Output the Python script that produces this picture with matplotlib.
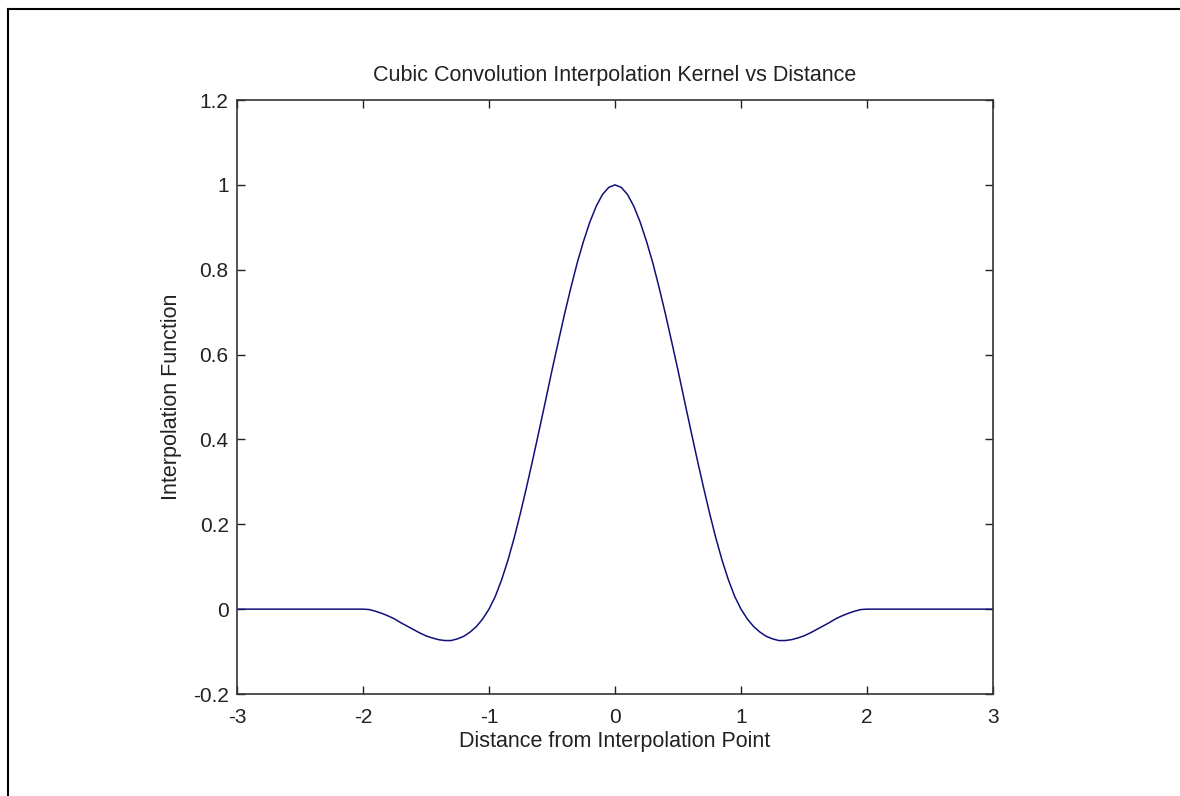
import numpy as np
import matplotlib
matplotlib.use("Agg")
import matplotlib.pyplot as plt
from matplotlib.lines import Line2D

# valores (distância x valor do kernel)
distancia = [-3.0, -2.0, -1.95, -1.9, -1.85, -1.8, -1.75, -1.7, -1.65, -1.6, -1.55,
             -1.5, -1.45, -1.4, -1.35, -1.3, -1.25, -1.2, -1.15, -1.1, -1.05,
             -1.0, -0.95, -0.9, -0.85, -0.8, -0.75, -0.7, -0.65, -0.6, -0.55,
             -0.5, -0.45, -0.4, -0.35, -0.3, -0.25, -0.2, -0.15, -0.1, -0.05,
             0.0, 0.05, 0.1, 0.15, 0.2, 0.25, 0.3, 0.35, 0.4, 0.45,
             0.5, 0.55, 0.6, 0.65, 0.7, 0.75, 0.8, 0.85, 0.9, 0.95,
             1.0, 1.05, 1.1, 1.15, 1.2, 1.25, 1.3, 1.35, 1.4, 1.45,
             1.5, 1.55, 1.6, 1.65, 1.7, 1.75, 1.8, 1.85, 1.9, 1.95, 2.0, 3.0]
kernel = [0.0, 0.0, -0.001, -0.005, -0.010, -0.016, -0.023, -0.032, -0.040, -0.048, -0.056,
          -0.063, -0.068, -0.072, -0.074, -0.074, -0.070, -0.064, -0.054, -0.041, -0.023,
          0.0, 0.030, 0.069, 0.115, 0.168, 0.227, 0.290, 0.356, 0.424, 0.493,
          0.563, 0.630, 0.696, 0.758, 0.816, 0.867, 0.912, 0.949, 0.977, 0.994,
          1.0, 0.994, 0.977, 0.949, 0.912, 0.867, 0.816, 0.758, 0.696, 0.630,
          0.563, 0.493, 0.424, 0.356, 0.290, 0.227, 0.168, 0.115, 0.069, 0.030,
          0.0, -0.023, -0.041, -0.054, -0.064, -0.070, -0.074, -0.074, -0.072, -0.068,
          -0.063, -0.056, -0.048, -0.040, -0.032, -0.023, -0.016, -0.010, -0.005, -0.001, 0.0, 0.0]

xticks = [-3, -2, -1, 0, 1, 2, 3]
yticks = [-0.2, 0, 0.2, 0.4, 0.6, 0.8, 1, 1.2]
ytick_labels = ['-0.2', '0', '0.2', '0.4', '0.6', '0.8', '1', '1.2']

plt.rcParams['font.family'] = ['Liberation Sans', 'DejaVu Sans']

fig = plt.figure(figsize=(11.8, 7.96), dpi=100)
ax = fig.add_axes([237 / 1180, 1 - 694 / 796, (993 - 237) / 1180, (694 - 100) / 796])

ax.plot(distancia, kernel, color='#10107a', linewidth=1.1)

ax.set_xlim(-3, 3)
ax.set_ylim(-0.2, 1.2)
ax.set_xticks(xticks)
ax.set_xticklabels([str(t) for t in xticks])
ax.set_yticks(yticks)
ax.set_yticklabels(ytick_labels)
ax.tick_params(direction='in', top=True, right=True, labelsize=15, length=6, width=1, colors='#222222')
ax.tick_params(axis='x', pad=10)
ax.tick_params(axis='y', pad=6)
for s in ax.spines.values():
    s.set_linewidth(1.2)
    s.set_color('#333333')

ax.set_title('Cubic Convolution Interpolation Kernel vs Distance', fontsize=15.5, pad=14, color='#222222')
ax.set_xlabel('Distance from Interpolation Point', fontsize=15.5, labelpad=3, color='#222222')
ax.set_ylabel('Interpolation Function', fontsize=15.5, labelpad=8, color='#222222')

# moldura da captura de tela (topo e esquerda)
fig.add_artist(Line2D([8 / 1180, 8 / 1180], [0, 1 - 9 / 796], color='black', linewidth=1.5))
fig.add_artist(Line2D([8 / 1180, 1], [1 - 9 / 796, 1 - 9 / 796], color='black', linewidth=1.5))

fig.savefig('out.png', dpi=100)
